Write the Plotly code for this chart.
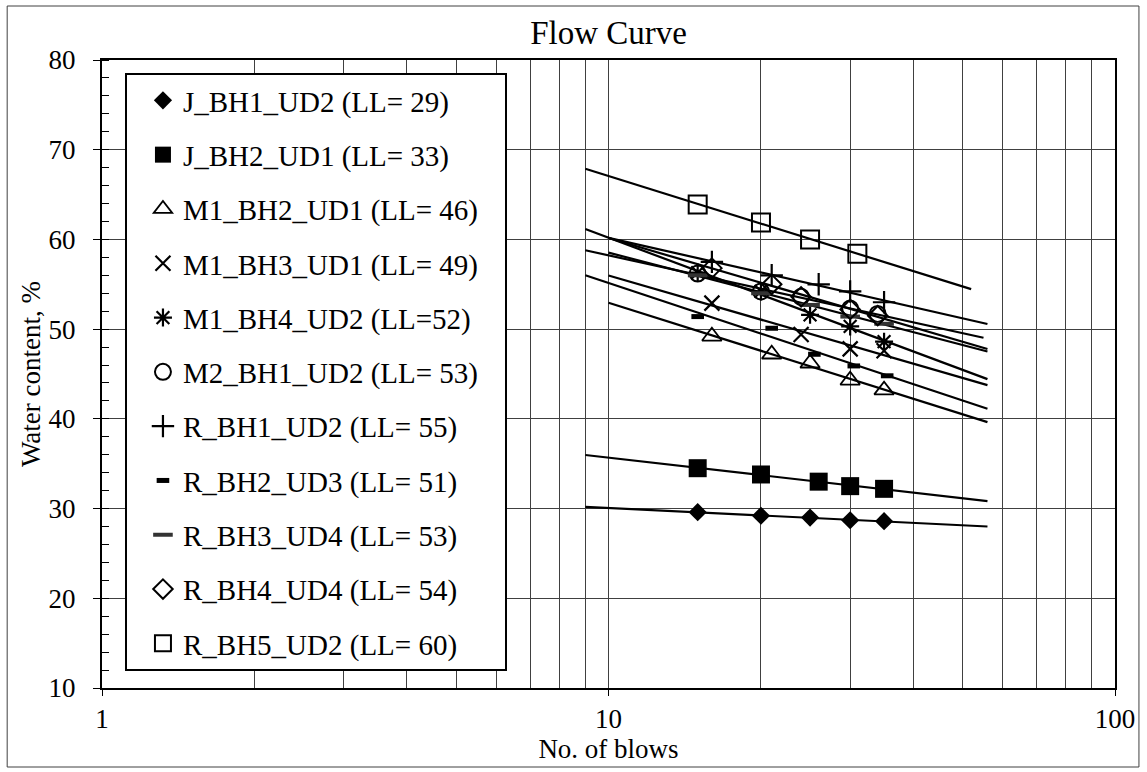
import numpy as np
import plotly.graph_objects as go

# ---------------- data ----------------
names = ["J_BH1_UD2 (LL= 29)", "J_BH2_UD1 (LL= 33)", "M1_BH2_UD1 (LL= 46)",
         "M1_BH3_UD1 (LL= 49)", "M1_BH4_UD2 (LL=52)", "M2_BH1_UD2 (LL= 53)",
         "R_BH1_UD2 (LL= 55)", "R_BH2_UD3 (LL= 51)", "R_BH3_UD4 (LL= 53)",
         "R_BH4_UD4 (LL= 54)", "R_BH5_UD2 (LL= 60)"]

blows_j_bh1 = [15, 20, 25, 30, 35]
wc_j_bh1 = [29.6, 29.2, 29.0, 28.7, 28.6]
blows_j_bh2 = [15, 20, 26, 30, 35]
wc_j_bh2 = [34.5, 33.8, 33.0, 32.5, 32.2]
blows_m1_bh2 = [16, 21, 25, 30, 35]
wc_m1_bh2 = [49.2, 47.2, 46.2, 44.3, 43.2]
blows_m1_bh3 = [16, 24, 30, 35]
wc_m1_bh3 = [52.9, 49.4, 47.8, 47.6]
blows_m1_bh4 = [15, 20, 25, 30, 35]
wc_m1_bh4 = [56.3, 54.2, 51.6, 50.3, 48.6]
blows_m2_bh1 = [15, 20, 24, 30, 34]
wc_m2_bh1 = [56.2, 54.2, 53.6, 52.3, 51.7]
blows_r_bh1 = [16, 21, 26, 30, 35]
wc_r_bh1 = [57.5, 56.0, 55.0, 54.2, 53.0]
blows_r_bh2 = [15, 21, 25.5, 30.5, 35.5]
wc_r_bh2 = [51.4, 50.1, 47.2, 45.9, 44.8]
blows_r_bh3 = [15, 20, 25, 30, 35]
wc_r_bh3 = [56.0, 54.0, 52.7, 51.4, 50.6]
blows_r_bh4 = [16, 21, 24, 30, 34]
wc_r_bh4 = [56.8, 55.0, 53.6, 52.2, 51.5]
blows_r_bh5 = [15, 20, 25, 31]
wc_r_bh5 = [63.9, 61.9, 60.0, 58.4]

# trendline extent (no. of blows)
trend_start = [9, 9, 10, 10, 9, 9, 10, 9, 10, 10, 9]
trend_end = [56, 56, 56, 56, 56, 55, 56, 56, 56, 56, 52]

x_ticks = [1, 10, 100]
y_ticks = [10, 20, 30, 40, 50, 60, 70, 80]

# ---------------- styles ----------------
blows = [blows_j_bh1, blows_j_bh2, blows_m1_bh2, blows_m1_bh3, blows_m1_bh4,
         blows_m2_bh1, blows_r_bh1, blows_r_bh2, blows_r_bh3, blows_r_bh4, blows_r_bh5]
wcs = [wc_j_bh1, wc_j_bh2, wc_m1_bh2, wc_m1_bh3, wc_m1_bh4,
       wc_m2_bh1, wc_r_bh1, wc_r_bh2, wc_r_bh3, wc_r_bh4, wc_r_bh5]

markers = [
    dict(symbol="diamond", size=14, color="black", line=dict(width=0)),
    dict(symbol="square", size=18, color="black", line=dict(width=0)),
    dict(symbol="triangle-up-open", size=17, color="black", line=dict(width=1.8, color="black")),
    dict(symbol="x-thin-open", size=15, color="black", line=dict(width=2.2, color="black")),
    dict(symbol="asterisk-open", size=15, color="black", line=dict(width=2.2, color="black")),
    dict(symbol="circle-open", size=16, color="black", line=dict(width=2, color="black")),
    dict(symbol="cross-thin-open", size=16, color="black", line=dict(width=2.2, color="black")),
    dict(symbol="line-ew-open", size=9, color="black", line=dict(width=5, color="black")),
    dict(symbol="line-ew-open", size=14, color="#333333", line=dict(width=4, color="#333333")),
    dict(symbol="diamond-open", size=15, color="black", line=dict(width=2, color="black")),
    dict(symbol="square-open", size=18, color="black", line=dict(width=2, color="black")),
]

FONT = "Liberation Serif"
PAD = "\u00a0\u00a0\u00a0"
fig = go.Figure()

for i, name in enumerate(names):
    n = np.array(blows[i], dtype=float)
    w = np.array(wcs[i], dtype=float)
    k, b = np.polyfit(np.log10(n), w, 1)
    xl = np.array([trend_start[i], trend_end[i]], dtype=float)
    yl = k * np.log10(xl) + b
    fig.add_trace(go.Scatter(x=xl, y=yl, mode="lines",
                             line=dict(color="black", width=2.2),
                             showlegend=False, hoverinfo="skip",
                             legendgroup=f"g{i}"))
for i, name in enumerate(names):
    fig.add_trace(go.Scatter(x=blows[i], y=wcs[i], mode="markers", name=name + PAD,
                             marker=markers[i], legendgroup=f"g{i}"))

grid_c = "#404040"
minor_x = [v * d for d in (1, 10) for v in range(2, 10)]

fig.update_layout(
    width=1147, height=772,
    margin=dict(l=102, r=30, t=60, b=84),
    paper_bgcolor="white", plot_bgcolor="white",
    font=dict(family=FONT, size=27, color="black"),
    title=dict(text="Flow Curve", x=0.5, xref="paper", xanchor="center",
               y=1 - 32 / 772, yref="container", yanchor="middle",
               font=dict(family=FONT, size=33, color="black")),
    xaxis=dict(type="log", range=[0, 2], tickvals=x_ticks,
               ticktext=[str(v) for v in x_ticks],
               ticks="outside", ticklen=6, tickcolor="black",
               showgrid=True, gridcolor=grid_c, gridwidth=1,
               minor=dict(tickvals=minor_x, showgrid=True, gridcolor=grid_c,
                          gridwidth=1, ticks=""),
               showline=True, linecolor="black", linewidth=2, mirror=True,
               zeroline=False,
               title=dict(text="No. of blows", standoff=6,
                          font=dict(family=FONT, size=27)),
               tickfont=dict(family=FONT, size=27)),
    yaxis=dict(range=[10, 80], tickvals=y_ticks,
               ticks="outside", ticklen=7, tickcolor="black",
               ticklabelstandoff=12,
               showgrid=True, gridcolor=grid_c, gridwidth=1,
               minor=dict(dtick=2, ticks="inside", ticklen=7,
                          tickcolor="black", showgrid=False),
               showline=True, linecolor="black", linewidth=2, mirror=True,
               zeroline=False,
               title=dict(text="Water content, %", standoff=0,
                          font=dict(family=FONT, size=27)),
               tickfont=dict(family=FONT, size=27)),
    legend=dict(x=(125 - 102) / 1015, xanchor="left",
                y=(688 - 73) / 628, yanchor="top",
                bgcolor="white", bordercolor="black", borderwidth=2,
                font=dict(family=FONT, size=29, color="black"),
                tracegroupgap=13.6, itemsizing="trace", indentation=16),
    shapes=[dict(type="rect", xref="paper", yref="paper",
                 x0=(7 - 102) / 1015, x1=(1141 - 102) / 1015,
                 y0=(688 - 767) / 628, y1=(688 - 6) / 628,
                 line=dict(color="#404040", width=1), layer="below")],
)

fig.write_html("out.html")
